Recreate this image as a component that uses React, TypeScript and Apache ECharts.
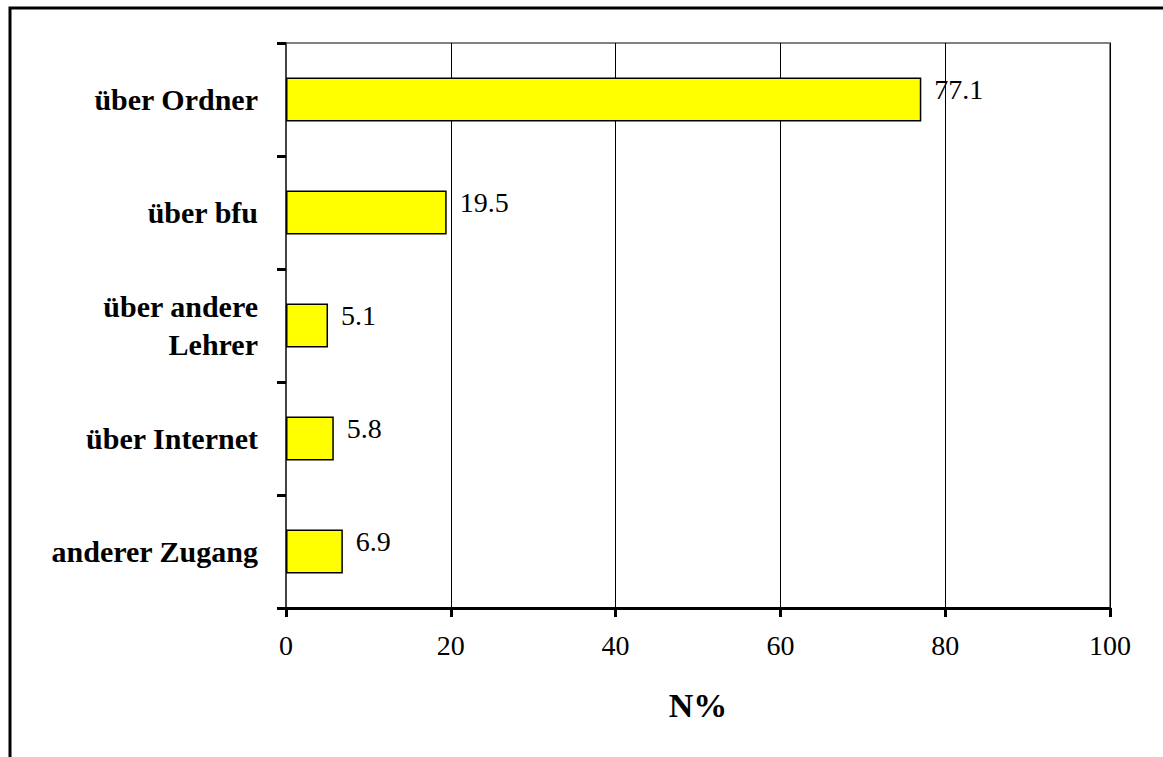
import React, { useEffect, useRef } from "react";
import * as echarts from "echarts";

const categories = ["über Ordner", "über bfu", "über andere\nLehrer", "über Internet", "anderer Zugang"];
const values = [77.1, 19.5, 5.1, 5.8, 6.9];
const axisName = "N%";

const FONT = "'Liberation Serif', 'Times New Roman', serif";

export default function App() {
  const ref = useRef<HTMLDivElement>(null);
  useEffect(() => {
    if (!ref.current) return;
    const chart = echarts.init(ref.current, null, { renderer: "svg" });
    chart.setOption({
      animation: false,
      backgroundColor: "#fff",
      textStyle: { fontFamily: FONT },
      graphic: [
        {
          type: "rect",
          shape: { x: 10, y: 8, width: 1200, height: 800 },
          style: { fill: "none", stroke: "#000", lineWidth: 3 },
          z: 100,
        },
      ],
      grid: {
        left: 286,
        right: 53,
        top: 43,
        bottom: 149,
        show: true,
        borderColor: "#808080",
        borderWidth: 2,
      },
      xAxis: {
        type: "value",
        min: 0,
        max: 100,
        interval: 20,
        name: axisName,
        nameLocation: "middle",
        nameGap: 80,
        nameTextStyle: { fontFamily: FONT, fontSize: 34, fontWeight: "bold", color: "#000" },
        axisLine: { show: true, lineStyle: { color: "#000", width: 3 } },
        axisTick: { show: true, length: 9, lineStyle: { color: "#000", width: 3 } },
        axisLabel: { fontFamily: FONT, fontSize: 28, color: "#000", margin: 23 },
        splitLine: { show: true, lineStyle: { color: "#000", width: 1 } },
      },
      yAxis: {
        type: "category",
        inverse: true,
        data: categories,
        axisLine: { show: true, lineStyle: { color: "#444", width: 2 } },
        axisTick: { show: true, length: 9, lineStyle: { color: "#000", width: 3 } },
        axisLabel: {
          fontFamily: FONT,
          fontSize: 30,
          fontWeight: "bold",
          color: "#000",
          margin: 28,
          lineHeight: 38,
          align: "right",
        },
        splitLine: { show: false },
      },
      series: [
        {
          type: "bar",
          data: values,
          barWidth: "39%",
          itemStyle: { color: "#ffff00", borderColor: "#000", borderWidth: 1.5 },
          label: {
            show: true,
            position: "right",
            distance: 13,
            offset: [0, -10],
            fontFamily: FONT,
            fontSize: 28,
            color: "#000",
            formatter: (p: any) => p.value.toFixed(1),
          },
        },
      ],
    });
    return () => chart.dispose();
  }, []);
  return (
    <div
      ref={ref}
      style={{ position: "fixed", left: 0, top: 0, width: 1163, height: 757 }}
    />
  );
}
